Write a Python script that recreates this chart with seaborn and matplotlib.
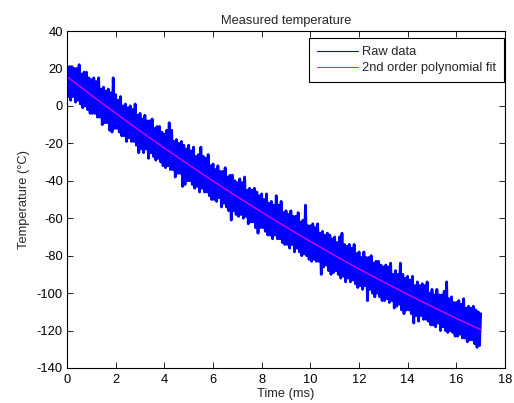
import numpy as np
import pandas as pd
import seaborn as sns
import matplotlib
matplotlib.use("Agg")
import matplotlib.pyplot as plt

# ---------------- data ----------------
raw_step_ms = 0.05
raw_temp = [
    # 0 - 1 ms
    21, 5, 21, 3, 21, 5, 20, 2, 20, 3, 22, 1, 17, -1, 18, 0, 18, -2, 15, -4,
    # 1 - 2 ms
    14, -4, 15, -4, 13, -6, 15, -6, 9, -10, 10, -9, 8, -9, 9, -13, 7, -14, 15, -12,
    # 2 - 3 ms
    6, -12, 3, -14, 5, -16, 0, -16, 1, -19, -1, -17, 0, -19, -2, -19, 1, -21, -5, -25,
    # 3 - 4 ms
    -4, -23, -7, -25, -5, -23, -8, -28, -8, -25, -7, -27, -12, -29, -11, -28, -11, -30, -14, -32,
    # 4 - 5 ms
    -15, -33, -13, -32, -9, -34, -13, -34, -19, -38, -18, -36, -20, -36, -19, -43, -21, -42, -23, -40,
    # 5 - 6 ms
    -21, -40, -24, -42, -22, -44, -27, -43, -26, -46, -22, -44, -27, -46, -28, -46, -26, -48, -32, -50,
    # 6 - 7 ms
    -31, -50, -34, -51, -32, -49, -35, -54, -35, -52, -33, -54, -38, -56, -37, -61, -37, -56, -40, -58,
    # 7 - 8 ms
    -41, -59, -39, -58, -41, -60, -38, -59, -45, -63, -44, -62, -45, -62, -44, -65, -46, -68, -48, -65,
    # 8 - 9 ms
    -47, -65, -50, -67, -47, -69, -52, -69, -51, -71, -53, -69, -48, -71, -53, -71, -51, -73, -57, -74,
    # 9 - 10 ms
    -56, -74, -58, -76, -56, -74, -59, -78, -59, -76, -57, -78, -62, -80, -61, -79, -53, -80, -64, -82,
    # 10 - 11 ms
    -64, -83, -63, -82, -65, -83, -63, -83, -68, -90, -67, -86, -69, -85, -68, -88, -69, -90, -71, -89,
    # 11 - 12 ms
    -70, -88, -73, -90, -70, -92, -68, -91, -74, -94, -75, -92, -74, -94, -76, -93, -74, -95, -79, -97,
    # 12 - 13 ms
    -78, -96, -81, -98, -78, -96, -81, -104, -81, -98, -80, -100, -84, -102, -83, -100, -83, -102, -85, -104,
    # 13 - 14 ms
    -86, -104, -85, -103, -86, -105, -84, -104, -90, -108, -88, -107, -90, -106, -84, -109, -90, -111, -92, -109,
    # 14 - 15 ms
    -91, -109, -93, -111, -91, -116, -96, -112, -94, -115, -96, -112, -95, -114, -96, -114, -94, -115, -100, -117,
    # 15 - 16 ms
    -98, -117, -101, -118, -98, -116, -101, -120, -101, -118, -99, -120, -94, -121, -103, -120, -102, -121, -105, -123,
    # 16 - 17 ms
    -105, -123, -104, -122, -106, -124, -103, -124, -108, -126, -107, -125, -108, -125, -107, -127, -109, -129, -110, -128,
    # 17 ms
    -111,
]
raw_time = np.arange(len(raw_temp)) * raw_step_ms

fit_time = [0, 1, 2, 3, 4, 5, 6, 7, 8, 9, 10, 11, 12, 13, 14, 15, 16, 17]
fit_temp = [15.6, 5.7, -3.95, -13.36, -22.53, -31.45, -40.13, -48.56, -56.75,
            -64.7, -72.4, -79.9, -87.1, -94.0, -100.7, -107.2, -113.5, -119.5]

x_ticks = [0, 2, 4, 6, 8, 10, 12, 14, 16, 18]
y_ticks = [-140, -120, -100, -80, -60, -40, -20, 0, 20, 40]

raw_df = pd.DataFrame({"time": raw_time, "temp": raw_temp})
fit_df = pd.DataFrame({"time": fit_time, "temp": fit_temp})

# ---------------- style ----------------
sns.set_style("ticks")
plt.rcParams["font.family"] = ["Liberation Sans", "DejaVu Sans"]
plt.rcParams["font.size"] = 9.3

fig = plt.figure(figsize=(5.14, 4.03), dpi=100)
ax = fig.add_axes([67 / 514, 35 / 403, 438 / 514, 337 / 403])

sns.lineplot(data=raw_df, x="time", y="temp", ax=ax, sort=False, estimator=None,
             color="#0000ff", linewidth=2.0, label="Raw data")
sns.lineplot(data=fit_df, x="time", y="temp", ax=ax, sort=False, estimator=None,
             color="#ff00ff", linewidth=0.8, label="2nd order polynomial fit")

ax.set_xlim(0, 18)
ax.set_ylim(-140, 40)
ax.set_xticks(x_ticks)
ax.set_yticks(y_ticks)
ax.set_xticklabels([str(v) for v in x_ticks])
ax.set_yticklabels([str(v) for v in y_ticks])

for s in ax.spines.values():
    s.set_visible(True)
    s.set_color("black")
    s.set_linewidth(0.8)

ax.tick_params(direction="in", length=4, width=0.6, top=True, right=True,
               labelsize=9.3, colors="black")
ax.tick_params(axis="x", pad=4.5)
ax.tick_params(axis="y", pad=3)

ax.set_title("Measured temperature", fontsize=9.3, pad=5)
ax.set_xlabel("Time (ms)", fontsize=9.3, labelpad=1)
ax.set_ylabel("Temperature (°C)", fontsize=9.3, labelpad=5)

leg = ax.legend(loc="upper right", bbox_to_anchor=(0.9977, 0.979), borderaxespad=0,
                frameon=True, fancybox=False, framealpha=1, edgecolor="black",
                handlelength=3.2, handletextpad=0.3, labelspacing=0.3,
                borderpad=0.62, fontsize=9.3)
leg.get_frame().set_linewidth(0.8)
for h in leg.get_lines():
    h.set_linewidth(0.8)

fig.savefig("out.png", dpi=100)
